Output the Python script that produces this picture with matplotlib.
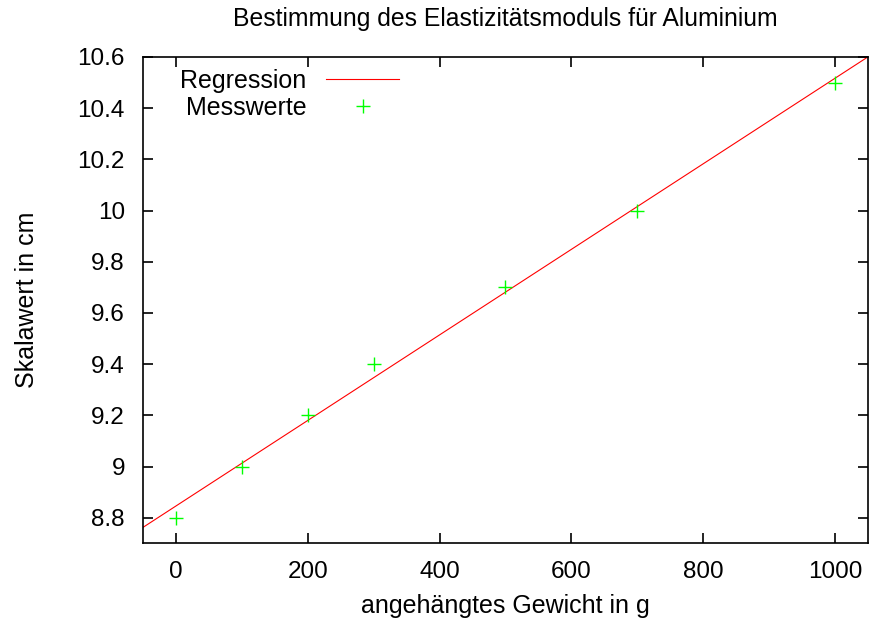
import numpy as np
import matplotlib
matplotlib.use('Agg')
import matplotlib.pyplot as plt

gewicht = [0, 100, 200, 300, 500, 700, 1000]
skala = [8.8, 9.0, 9.2, 9.4, 9.7, 10.0, 10.5]

x_ticks = [0, 200, 400, 600, 800, 1000]
y_ticks = [8.8, 9.0, 9.2, 9.4, 9.6, 9.8, 10.0, 10.2, 10.4, 10.6]
y_labels = ['8.8', '9', '9.2', '9.4', '9.6', '9.8', '10', '10.2', '10.4', '10.6']

plt.rcParams['font.family'] = ['Liberation Sans', 'DejaVu Sans']
plt.rcParams['font.size'] = 18

fig = plt.figure(figsize=(8.72, 6.22), dpi=100)
ax = fig.add_axes([0.164, 0.1265, 0.8314, 0.7819])

# lineare Regression über alle Messpunkte
m, b = np.polyfit(gewicht, skala, 1)
xr = np.array([-50, 1050])
ax.plot(xr, m * xr + b, color='#ff0000', lw=0.8, label='Regression')
ax.plot(gewicht, skala, ls='none', marker='+', color='#00ff00',
        ms=9.5, mew=1.0, label='Messwerte')

ax.set_xlim(-50, 1050)
ax.set_ylim(8.7, 10.6)
ax.set_xticks(x_ticks)
ax.set_yticks(y_ticks)
ax.set_yticklabels(y_labels)
ax.tick_params(direction='in', length=7, width=1.2, top=True, right=True,
               labelsize=17.5)
ax.tick_params(axis='x', pad=13)
ax.tick_params(axis='y', pad=13)
for s in ax.spines.values():
    s.set_linewidth(1.2)

ax.set_xlabel('angehängtes Gewicht in g', labelpad=8)
ax.set_ylabel('Skalawert in cm', labelpad=28)
ax.set_title('Bestimmung des Elastizitätsmoduls für Aluminium', pad=22,
             fontsize=17.8)

ax.legend(loc='upper right', bbox_to_anchor=(0.353, 0.975), frameon=False,
          markerfirst=False, handlelength=2.9, handletextpad=0.8,
          borderpad=0, borderaxespad=0, labelspacing=0.1)

fig.savefig('out.png', dpi=100)
